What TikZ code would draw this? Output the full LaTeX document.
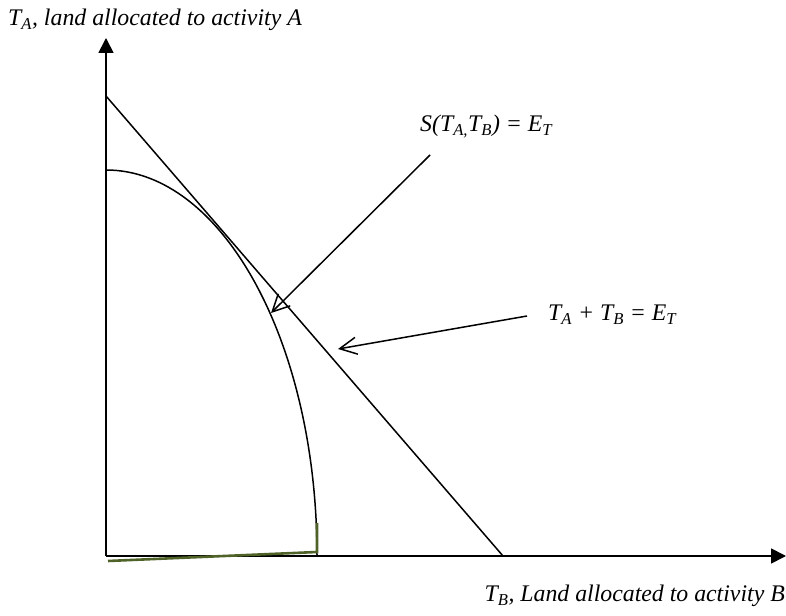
\documentclass[tikz,border=0pt]{standalone}
\usepackage{fontspec}
\setmainfont{Liberation Serif}
\usetikzlibrary{positioning, arrows.meta, calc}
\newcommand{\sub}[1]{\textsubscript{#1}}
\newcommand{\labsize}{\fontsize{23.8}{28}\selectfont}
\definecolor{edgegreen}{HTML}{4F6228}

\begin{document}
\begin{tikzpicture}[
    x=1pt, y=1pt,
    axis/.style={
        line width=1.7pt,
        -{Triangle[length=15pt,width=15pt]}
    },
    curve/.style={line width=1.5pt},
    pointer/.style={
        line width=1.5pt,
        -{Straight Barb[length=17pt,width=17pt,line width=1.5pt]}
    },
    lab/.style={
        font=\labsize\itshape,
        inner sep=0pt
    }
]
    \useasboundingbox (0,0) rectangle (786,615);

    % --- axes ---
    \coordinate (origin) at (106,59);
    \coordinate (ytop)   at (106,577);
    \coordinate (xend)   at (786,59);
    \draw[axis] (origin) -- (ytop);
    \draw[axis] (origin) -- (xend);

    \node[lab, anchor=base west] (ylab) at (8,589) {T\sub{A}, land allocated to activity A};
    \node[lab, anchor=base east] (xlab) at (785,13) {T\sub{B}, Land allocated to activity B};

    % --- budget line and frontier ---
    \coordinate (budtop) at (106,519);
    \coordinate (budbot) at (503,59);
    \draw[curve] (budtop) -- (budbot);

    \draw[curve] (106,445) arc[start angle=90, end angle=0, x radius=211, y radius=386];
    \draw[line width=2.6pt, edgegreen] (108,54) -- (317,63) -- (317,92);

    % --- labels with pointers ---
    \node[lab, anchor=base west] (slab) at (420,483) {S(T\sub{A,}T\sub{B}) = E\sub{T}};
    \coordinate (stail) at (430,460);
    \coordinate (stip)  at (271,302);
    \draw[pointer] (stail) -- (stip);

    \node[lab, anchor=base west] (blab) at (548,294) {T\sub{A} + T\sub{B} = E\sub{T}};
    \coordinate (btail) at (527,299);
    \coordinate (btip)  at (338,266);
    \draw[pointer] (btail) -- (btip);

\end{tikzpicture}
\end{document}
